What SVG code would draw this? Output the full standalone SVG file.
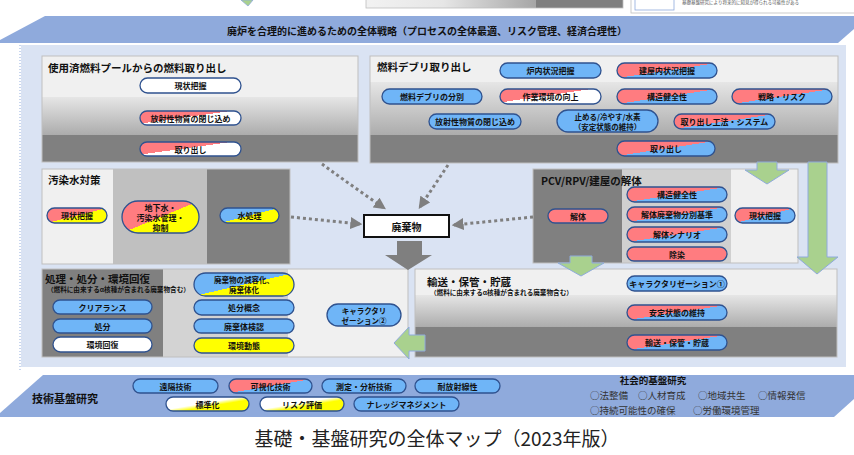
<svg xmlns="http://www.w3.org/2000/svg" width="854" height="455" viewBox="0 0 854 455">
<defs>
<style>
text{font-family:"Noto Sans CJK JP","Noto Sans",sans-serif;fill:#111}
.pt{font-size:8px;font-weight:bold;text-anchor:middle;dominant-baseline:central}
.pt2{font-size:7.5px;font-weight:bold;text-anchor:middle;dominant-baseline:central}
.pill{stroke:#2f528f;stroke-width:1.3}
.ttl{font-size:10.5px;font-weight:bold;dominant-baseline:central}
.sub{font-size:6.6px;font-weight:bold;dominant-baseline:central}
.pb{stroke:#bfbfbf;stroke-width:1;fill:none}
.dot{stroke:#7f7f7f;stroke-width:3;stroke-dasharray:3 3;fill:none}
.garr{fill:#a9d18e;stroke:#8faadc;stroke-width:1}
.soc{font-size:9.5px;fill:#333;dominant-baseline:central}
</style>
<linearGradient id="rb" x1="0" y1="0" x2="1" y2="1"><stop offset="0.5" stop-color="#ff7c80"/><stop offset="0.5" stop-color="#6fb5f7"/></linearGradient>
<linearGradient id="ry" x1="0" y1="0" x2="1" y2="1"><stop offset="0.5" stop-color="#ff7c80"/><stop offset="0.5" stop-color="#ffff00"/></linearGradient>
<linearGradient id="rw" x1="0" y1="0" x2="1" y2="1"><stop offset="0.45" stop-color="#ff7c80"/><stop offset="0.45" stop-color="#ffffff"/></linearGradient>
<linearGradient id="by" x1="0" y1="0" x2="1" y2="1"><stop offset="0.5" stop-color="#6fb5f7"/><stop offset="0.5" stop-color="#ffff00"/></linearGradient>
<linearGradient id="wy" x1="0" y1="0" x2="1" y2="1"><stop offset="0.45" stop-color="#ffffff"/><stop offset="0.6" stop-color="#ffff00"/></linearGradient>
<linearGradient id="gv" x1="0" y1="0" x2="0" y2="1"><stop offset="0" stop-color="#e6e6e6"/><stop offset="1" stop-color="#acacac"/></linearGradient>
<linearGradient id="leg" x1="0" y1="0" x2="1" y2="0"><stop offset="0" stop-color="#f2f2f2"/><stop offset="0.3" stop-color="#e6e6e6"/><stop offset="0.66" stop-color="#a6a6a6"/><stop offset="0.66" stop-color="#7f7f7f"/><stop offset="1" stop-color="#7f7f7f"/></linearGradient>
<marker id="ah" viewBox="0 0 10 10" refX="8" refY="5" markerWidth="4" markerHeight="4" orient="auto"><path d="M0,0 L10,5 L0,10 z" fill="#7f7f7f"/></marker>
</defs>
<rect width="854" height="455" fill="#ffffff"/>

<!-- legend remnants -->
<g id="legend">
<path d="M241,0 L253,0 L248,6 Z" fill="#a9d18e" stroke="#8faadc" stroke-width="0.8"/>
<rect x="366" y="-2" width="257" height="10" fill="url(#leg)" stroke="#bfbfbf" stroke-width="0.8"/>
<rect x="631" y="-2" width="225" height="15" fill="#ffffff" stroke="#bfbfbf" stroke-width="0.8"/>
<rect x="635" y="-2" width="39" height="12" fill="#ffffff" stroke="#8faadc" stroke-width="0.8"/>
<text x="682" y="4" style="font-size:4.5px;fill:#555">基礎基盤研究により将来的に知見が得られる可能性がある</text>
</g>

<!-- top banner -->
<g id="banner">
<polygon points="45,16 854,16 854,29 838,43 0,43 0,40" fill="#8faadc"/>
<text x="427" y="30" style="font-size:10px;font-weight:bold;text-anchor:middle;dominant-baseline:central">廃炉を合理的に進めるための全体戦略（プロセスの全体最適、リスク管理、経済合理性）</text>
</g>

<!-- background -->
<rect x="21" y="45" width="825" height="322" fill="#dae3f3"/>
<line x1="20" y1="45" x2="20" y2="372" stroke="#8faadc" stroke-width="1" stroke-dasharray="1 2"/>

<!-- Panel: spent fuel pool -->
<g id="p-pool">
<rect x="42" y="56" width="316" height="41" fill="#f0f0f0"/>
<rect x="42" y="97" width="316" height="38" fill="url(#gv)"/>
<rect x="42" y="135" width="316" height="27" fill="#808080"/>
<rect class="pb" x="42" y="56" width="316" height="106"/>
<text class="ttl" x="48" y="67">使用済燃料プールからの燃料取り出し</text>
<rect class="pill" x="140" y="78" width="101" height="15" rx="7.5" fill="#ffffff"/><text class="pt" x="190.5" y="85.5">現状把握</text>
<rect class="pill" x="140" y="111" width="101" height="14" rx="7" fill="url(#rw)"/><text class="pt" x="190.5" y="118">放射性物質の閉じ込め</text>
<rect class="pill" x="140" y="142" width="101" height="14" rx="7" fill="url(#rw)"/><text class="pt" x="190.5" y="149">取り出し</text>
</g>

<!-- Panel: fuel debris -->
<g id="p-debris">
<rect x="370" y="56" width="468" height="26" fill="#f0f0f0"/>
<rect x="370" y="82" width="468" height="53" fill="url(#gv)"/>
<rect x="370" y="135" width="468" height="28" fill="#808080"/>
<rect class="pb" x="370" y="56" width="468" height="107"/>
<text class="ttl" x="377" y="66">燃料デブリ取り出し</text>
<rect class="pill" x="500" y="63" width="101" height="15" rx="7.5" fill="#6fb5f7"/><text class="pt" x="550.5" y="70.5">炉内状況把握</text>
<rect class="pill" x="617" y="63" width="100" height="15" rx="7.5" fill="url(#rb)"/><text class="pt" x="667" y="70.5">建屋内状況把握</text>
<rect class="pill" x="382" y="89" width="100" height="15" rx="7.5" fill="#6fb5f7"/><text class="pt" x="432" y="96.5">燃料デブリの分別</text>
<rect class="pill" x="500" y="89" width="101" height="15" rx="7.5" fill="url(#rw)"/><text class="pt" x="550.5" y="96.5">作業環境の向上</text>
<rect class="pill" x="617" y="89" width="100" height="15" rx="7.5" fill="url(#rb)"/><text class="pt" x="667" y="96.5">構造健全性</text>
<rect class="pill" x="732" y="89" width="100" height="15" rx="7.5" fill="url(#rb)"/><text class="pt" x="782" y="96.5">戦略・リスク</text>
<rect class="pill" x="429" y="114" width="92" height="15" rx="7.5" fill="#6fb5f7"/><text class="pt" x="475" y="121.5">放射性物質の閉じ込め</text>
<rect class="pill" x="557" y="110" width="101" height="22" rx="11" fill="#6fb5f7"/><text class="pt2" x="607.5" y="116">止める/冷やす/水素</text><text class="pt2" x="607.5" y="126">（安定状態の維持）</text>
<rect class="pill" x="674" y="114" width="101" height="15" rx="7.5" fill="url(#rb)"/><text class="pt" x="724.5" y="121.5">取り出し工法・システム</text>
<rect class="pill" x="617" y="141" width="98" height="15" rx="7.5" fill="url(#rb)"/><text class="pt" x="666" y="148.5">取り出し</text>
</g>

<!-- Panel: contaminated water -->
<g id="p-water">
<rect x="42" y="169" width="71" height="95" fill="#f0f0f0"/>
<rect x="113" y="169" width="94" height="95" fill="#c0c0c0"/>
<rect x="207" y="169" width="83" height="95" fill="#808080"/>
<rect class="pb" x="42" y="169" width="248" height="95"/>
<text class="ttl" x="48" y="179">汚染水対策</text>
<rect class="pill" x="47" y="208" width="60" height="15" rx="7.5" fill="url(#ry)"/><text class="pt" x="77" y="215.5">現状把握</text>
<rect class="pill" x="122" y="201" width="77" height="32" rx="16" fill="url(#ry)"/><text class="pt" x="160.5" y="207">地下水・</text><text class="pt" x="160.5" y="217">汚染水管理・</text><text class="pt" x="160.5" y="227">抑制</text>
<rect class="pill" x="220" y="208" width="59" height="15" rx="7.5" fill="url(#by)"/><text class="pt" x="249.5" y="215.5">水処理</text>
</g>

<!-- Panel: PCV/RPV -->
<g id="p-pcv">
<rect x="533" y="169" width="89" height="94" fill="#808080"/>
<rect x="622" y="169" width="109" height="94" fill="#d0d0d0"/>
<rect x="731" y="169" width="67" height="94" fill="#f0f0f0"/>
<rect class="pb" x="533" y="169" width="265" height="94"/>
<text class="ttl" x="541" y="180">PCV/RPV/建屋の解体</text>
<rect class="pill" x="548" y="209" width="60" height="14" rx="7" fill="#ff7c80"/><text class="pt" x="578" y="216">解体</text>
<rect class="pill" x="627" y="187" width="100" height="15" rx="7.5" fill="url(#rb)"/><text class="pt" x="677" y="194.5">構造健全性</text>
<rect class="pill" x="627" y="207" width="100" height="15" rx="7.5" fill="url(#rb)"/><text class="pt" x="677" y="214.5">解体廃棄物分別基準</text>
<rect class="pill" x="627" y="227" width="100" height="15" rx="7.5" fill="url(#rb)"/><text class="pt" x="677" y="234.5">解体シナリオ</text>
<rect class="pill" x="627" y="247" width="100" height="14" rx="7" fill="#ff7c80"/><text class="pt" x="677" y="254">除染</text>
<rect class="pill" x="735" y="208" width="60" height="15" rx="7.5" fill="url(#rb)"/><text class="pt" x="765" y="215.5">現状把握</text>
</g>

<!-- Panel: treatment/disposal -->
<g id="p-disposal">
<rect x="42" y="269" width="121" height="88" fill="#808080"/>
<rect x="163" y="269" width="125" height="88" fill="#d3d3d3"/>
<rect x="288" y="269" width="120" height="88" fill="#f0f0f0"/>
<rect class="pb" x="42" y="269" width="366" height="88"/>
<text class="ttl" x="45" y="278">処理・処分・環境回復</text>
<text class="sub" x="47" y="289">（燃料に由来するα核種が含まれる廃棄物含む）</text>
<rect class="pill" x="53" y="300" width="99" height="14" rx="7" fill="#6fb5f7"/><text class="pt" x="102.5" y="307">クリアランス</text>
<rect class="pill" x="53" y="319" width="99" height="14" rx="7" fill="#6fb5f7"/><text class="pt" x="102.5" y="326">処分</text>
<rect class="pill" x="53" y="337" width="99" height="15" rx="7.5" fill="#ffffff"/><text class="pt" x="102.5" y="344.5">環境回復</text>
<rect class="pill" x="194" y="273" width="100" height="23" rx="11.5" fill="url(#by)"/><text class="pt2" x="244" y="279.5">廃棄物の減容化、</text><text class="pt2" x="244" y="289.5">廃棄体化</text>
<rect class="pill" x="194" y="300" width="100" height="15" rx="7.5" fill="#6fb5f7"/><text class="pt" x="244" y="307.5">処分概念</text>
<rect class="pill" x="194" y="319" width="100" height="14" rx="7" fill="#6fb5f7"/><text class="pt" x="244" y="326">廃棄体検認</text>
<rect class="pill" x="194" y="338" width="100" height="15" rx="7.5" fill="#ffff00"/><text class="pt" x="244" y="345.5">環境動態</text>
<rect class="pill" x="327" y="304" width="74" height="22" rx="11" fill="#6fb5f7"/><text class="pt2" x="364" y="310">キャラクタリ</text><text class="pt2" x="364" y="320">ゼーション②</text>
</g>

<!-- Panel: transport/storage -->
<g id="p-storage">
<rect x="415" y="269" width="422" height="26" fill="#f0f0f0"/>
<rect x="415" y="295" width="422" height="32" fill="url(#gv)"/>
<rect x="415" y="327" width="422" height="30" fill="#808080"/>
<rect class="pb" x="415" y="269" width="422" height="88"/>
<text class="ttl" x="427" y="281">輸送・保管・貯蔵</text>
<text class="sub" x="430" y="292">（燃料に由来するα核種が含まれる廃棄物含む）</text>
<rect class="pill" x="627" y="276" width="100" height="15" rx="7.5" fill="#6fb5f7"/><text class="pt" x="677" y="283.5">キャラクタリゼーション①</text>
<rect class="pill" x="627" y="305" width="100" height="15" rx="7.5" fill="url(#rb)"/><text class="pt" x="677" y="312.5">安定状態の維持</text>
<rect class="pill" x="627" y="335" width="100" height="15" rx="7.5" fill="url(#rb)"/><text class="pt" x="677" y="342.5">輸送・保管・貯蔵</text>
</g>

<!-- Waste node -->
<g id="n-waste">
<rect x="364" y="215" width="85" height="22" fill="#ffffff" stroke="#111" stroke-width="2"/>
<text x="406.5" y="226" style="font-size:10px;font-weight:bold;text-anchor:middle;dominant-baseline:central">廃棄物</text>
</g>

<!-- connectors -->
<g id="connectors">
<path class="dot" d="M322,164 Q352,186 384,208" marker-end="url(#ah)"/>
<path class="dot" d="M448,165 L420,207" marker-end="url(#ah)"/>
<path class="dot" d="M533,217 L454,225" marker-end="url(#ah)"/>
<path class="dot" d="M291,217 L360,224" marker-end="url(#ah)"/>
<polygon points="397,241 422,241 422,255 432,255 408,270 385,255 397,255" fill="#7f7f7f"/>
<polygon class="garr" points="757,162 777,162 777,170 789,170 767,184 745,170 757,170"/>
<polygon class="garr" points="808,162 827,162 827,257 838,257 817,274 797,257 808,257"/>
<polygon class="garr" points="570,256 592,256 592,263 604,263 581,276 558,263 570,263"/>
<polygon class="garr" points="425,335 425,351 409,351 409,359 394,343 409,327 409,335"/>
</g>

<!-- bottom bar -->
<g id="basic-research">
<polygon points="43,375 854,375 854,399 834,417 0,417 0,413" fill="#8faadc"/>
<text x="32" y="398" style="font-size:11px;font-weight:bold;dominant-baseline:central">技術基盤研究</text>
<rect class="pill" x="133" y="379" width="85" height="14" rx="7" fill="#6fb5f7"/><text class="pt" x="175.5" y="386">遠隔技術</text>
<rect class="pill" x="229" y="379" width="83" height="14" rx="7" fill="url(#rb)"/><text class="pt" x="270.5" y="386">可視化技術</text>
<rect class="pill" x="322" y="379" width="84" height="14" rx="7" fill="#6fb5f7"/><text class="pt" x="364" y="386">測定・分析技術</text>
<rect class="pill" x="415" y="379" width="85" height="14" rx="7" fill="#6fb5f7"/><text class="pt" x="457.5" y="386">耐放射線性</text>
<rect class="pill" x="166" y="397" width="83" height="14" rx="7" fill="url(#wy)"/><text class="pt" x="207.5" y="404">標準化</text>
<rect class="pill" x="260" y="397" width="84" height="14" rx="7" fill="url(#wy)"/><text class="pt" x="302" y="404">リスク評価</text>
<rect class="pill" x="354" y="397" width="105" height="14" rx="7" fill="#6fb5f7"/><text class="pt" x="406.5" y="404">ナレッジマネジメント</text>
<text x="653" y="380" style="font-size:9.5px;font-weight:bold;text-anchor:middle;dominant-baseline:central">社会的基盤研究</text>
<text class="soc" x="590" y="395">○法整備</text>
<text class="soc" x="638" y="395">○人材育成</text>
<text class="soc" x="698" y="395">○地域共生</text>
<text class="soc" x="758" y="395">○情報発信</text>
<text class="soc" x="590" y="409.5">○持続可能性の確保</text>
<text class="soc" x="693" y="409.5">○労働環境管理</text>
</g>

<text x="437" y="437" style="font-size:19px;text-anchor:middle;dominant-baseline:central;fill:#222">基礎・基盤研究の全体マップ（2023年版）</text>
</svg>
